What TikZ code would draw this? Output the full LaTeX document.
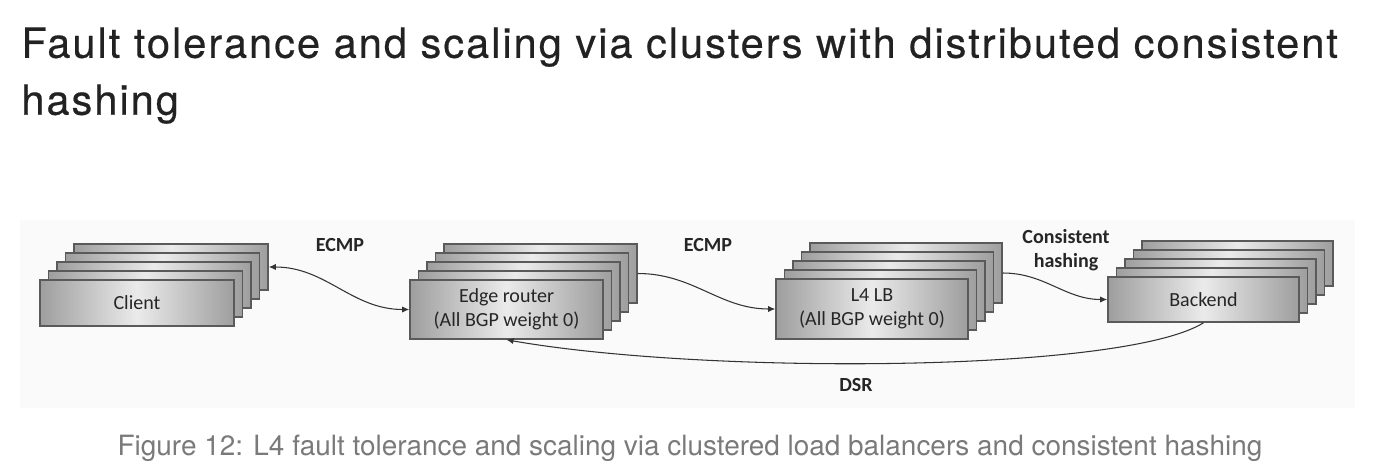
\documentclass[tikz,border=0pt]{standalone}
\usepackage{fontspec}
\setmainfont{Carlito}
\newfontfamily\headfont{TeX Gyre Heros}
\newfontfamily\titlefont[LetterSpace=4.7, FakeBold=0.4]{TeX Gyre Heros}
\usetikzlibrary{arrows.meta}
\definecolor{inkgray}{HTML}{222222}
\definecolor{capgray}{HTML}{7A7A7A}
\definecolor{boxline}{HTML}{5A5A5A}
\tikzset{
  layer/.style={draw=boxline, line width=0.9pt, left color=black!38, right color=black!38,
    middle color=black!8, inner sep=0pt, align=center, text=black!85,
    font=\fontsize{11.4}{13.5}\selectfont},
  flowlabel/.style={font=\bfseries\fontsize{11.4}{13.5}\selectfont, align=center, text=black!85},
  flow/.style={line width=0.6pt, black!80, -{Latex[length=4pt,width=3.5pt]}},
}
\begin{document}
\begin{tikzpicture}[x=0.02cm, y=-0.02cm]
\useasboundingbox (0,0) rectangle (1381,470);
\fill[black!2] (20,220) rectangle (1355,408);

\node[anchor=base west, font=\titlefont\fontsize{23.7}{32.4}\selectfont, text=inkgray, inner sep=0pt, align=left] (title) at (21,114.7) {Fault tolerance and scaling via clusters with distributed consistent\\hashing};

\foreach \k in {4,3,2,1} {
  \node[layer, minimum width=3.88cm, minimum height=0.92cm] (client\k) at (137+8.5*\k,303-9*\k){};
  \node[layer, minimum width=3.86cm, minimum height=1.18cm] (edge\k) at (506.5+8.5*\k,309.5-9*\k){};
  \node[layer, minimum width=3.84cm, minimum height=1.2cm] (lb\k) at (872+8.5*\k,309-9*\k){};
  \node[layer, minimum width=3.82cm, minimum height=0.9cm] (backend\k) at (1203.5+8.5*\k,299.5-9*\k){};
}
\node[layer, minimum width=3.88cm, minimum height=0.92cm] (client0) at (137,303){Client};
\node[layer, minimum width=3.86cm, minimum height=1.18cm] (edge0) at (506.5,309.5){Edge router\\(All BGP weight 0)};
\node[layer, minimum width=3.84cm, minimum height=1.2cm] (lb0) at (872,309){L4 LB\\(All BGP weight 0)};
\node[layer, minimum width=3.82cm, minimum height=0.9cm] (backend0) at (1203.5,299.5){Backend};

\node[flowlabel] (ecmp1) at (340,245){ECMP};
\node[flowlabel] (ecmp2) at (708,245){ECMP};
\node[flowlabel] (hash) at (1066,250){Consistent\\hashing};
\node[flowlabel] (dsr) at (856,385){DSR};

\draw[flow, {Latex[length=4pt,width=3.5pt]}-{Latex[length=4pt,width=3.5pt]}] (client4.east) to[out=0, in=180] (edge0.west);
\draw[flow] (edge4.east) to[out=0, in=180] (lb0.west);
\draw[flow] (lb4.east) to[out=0, in=180] (backend0.west);
\draw[flow] (backend0.south) .. controls +(-80,50) and +(200,35) .. (edge0.south);

\node[font=\headfont\fontsize{15.9}{19}\selectfont, text=capgray] (caption) at (690,448){Figure 12: L4 fault tolerance and scaling via clustered load balancers and consistent hashing};
\end{tikzpicture}
\end{document}
